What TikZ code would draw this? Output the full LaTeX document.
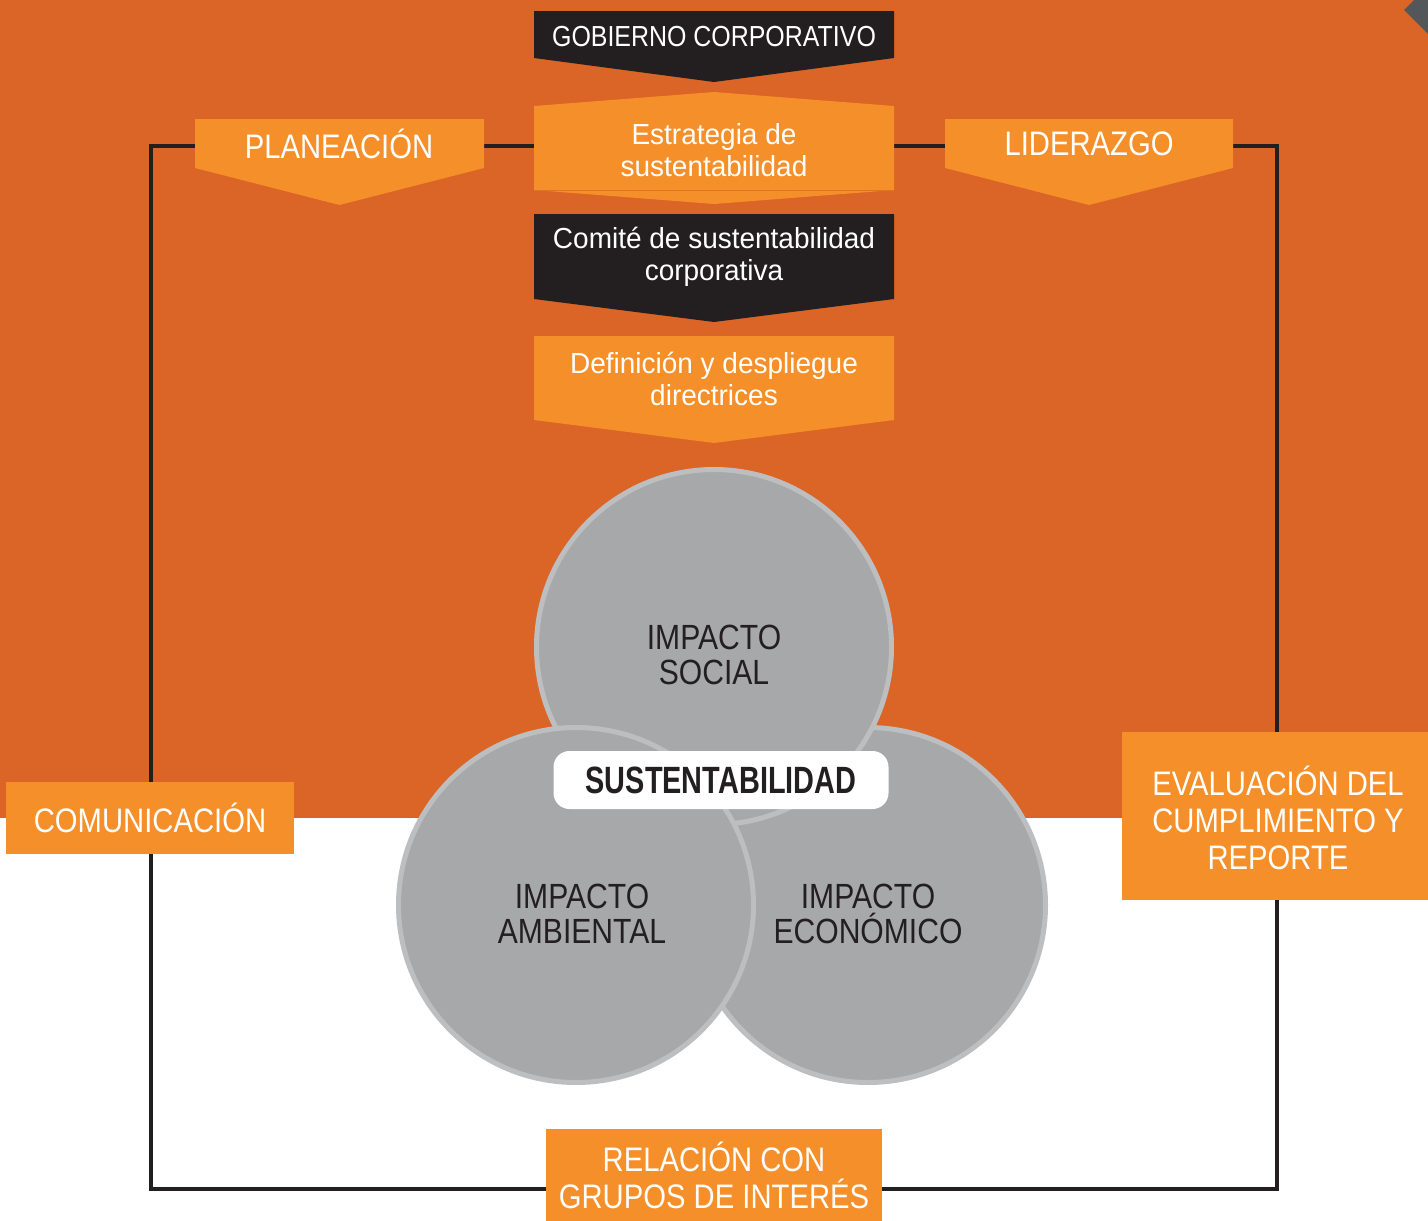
\documentclass[tikz,border=0pt]{standalone}
\usepackage{fontspec}
\setmainfont{Liberation Sans}[FakeStretch=0.86]
\newfontfamily\angosta{Liberation Sans}[FakeStretch=0.76]
\newfontfamily\ancha{Liberation Sans}[FakeStretch=0.965]
\usetikzlibrary{calc}

\definecolor{fondo}{HTML}{DB6427}
\definecolor{naranja}{HTML}{F58F2A}
\definecolor{oscuro}{HTML}{231F20}
\definecolor{grisc}{HTML}{A7A8AA}
\definecolor{grisborde}{HTML}{BCBEC0}
\definecolor{pizarra}{HTML}{53575A}

\begin{document}
\begin{tikzpicture}[
	x=1pt, y=-1pt,
	marco/.style ={line width=4pt, color=oscuro},
	textob/.style ={text=white, align=center, inner sep=0pt},
	caja/.style ={fill=naranja, text=white, align=center, inner sep=0pt,
		font=\fontsize{34}{37}\selectfont},
	circulo/.style ={circle, fill=grisc, draw=grisborde, line width=5pt,
		minimum size=355pt, inner sep=0pt},
	textocirc/.style ={align=center, text=oscuro, inner sep=0pt,
		font=\fontsize{35}{35}\selectfont}]

	% banda: [relleno] (izq,arriba)(der,lado)(punta)
	\def\banda[#1](#2,#3)(#4,#5)(#6)%
		{\fill[#1] (#2,#3) -- (#4,#3) -- (#4,#5) -- ({(#2+#4)/2},#6) -- (#2,#5) -- cycle; }

	\useasboundingbox (0,0) rectangle (1428,1221);

	% fondo
	\fill[fondo] (0,0) rectangle (1428,818);
	\fill[pizarra] (1404,10) -- (1414,0) -- (1428,0) -- (1428,34) -- cycle;

	\coordinate (TL) at (151,146);
	\coordinate (TR) at (1277,146);
	\coordinate (BR) at (1277,1189);
	\coordinate (BL) at (151,1189);
	\draw [marco] (TL) -- (TR) -- (BR) -- (BL) -- cycle;

	% columna central
	\banda[oscuro](534,11)(894,58)(82)
	\node[textob, font=\fontsize{29}{32}\selectfont] (gobierno) at (714,37) {GOBIERNO CORPORATIVO};

	\fill[naranja] (534,106) -- (714,92) -- (894,106) -- (894,190) -- (714,204) -- (534,190) -- cycle;
	\draw[fondo!70!naranja, thin] (534,190) -- (894,190);
	\node[textob, font=\ancha\fontsize{29}{32}\selectfont] (estrategia) at (714,150) {Estrategia de\\sustentabilidad};

	\banda[oscuro](534,214)(894,299)(322)
	\node[textob, font=\ancha\fontsize{29}{32}\selectfont] (comite) at (714,257) {Comité de sustentabilidad\\corporativa};

	\banda[naranja](534,336)(894,420)(443)
	\node[textob, font=\ancha\fontsize{29}{32}\selectfont] (definicion) at (714,379) {Definición y despliegue\\directrices};

	% bandas laterales
	\banda[naranja](195,119)(484,168)(205)
	\node[textob, font=\fontsize{34}{37}\selectfont] (planeacion) at (339,144) {PLANEACIÓN};
	\banda[naranja](945,119)(1233,168)(205)
	\node[textob, font=\fontsize{34}{37}\selectfont] (liderazgo) at (1089,144) {LIDERAZGO};

	% circulos
	\node[circulo] (economico) at (868,905) {};
	\node[circulo] (social) at (714,647) {};
	\node[circulo] (ambiental) at (576,905) {};
	\node[textocirc] (economicotxt) at ($(economico)+(0,9)$) {IMPACTO\\ECONÓMICO};
	\node[textocirc] (socialtxt) at ($(social)+(0,8)$) {IMPACTO\\SOCIAL};
	\node[textocirc] (ambientaltxt) at ($(ambiental)+(6,9)$) {IMPACTO\\AMBIENTAL};

	\node[fill=white, rounded corners=16pt, minimum width=335pt, minimum height=58pt,
		text=oscuro, font=\angosta\bfseries\fontsize{38}{38}\selectfont] (sust) at (721,780) {SUSTENTABILIDAD};

	% cajas
	\node[caja, minimum width=288pt, minimum height=72pt] (comunicacion) at (150,818) {COMUNICACIÓN};
	\node[caja, minimum width=306pt, minimum height=168pt] (evaluacion) at (1275,816) {};
	\node[textob, font=\fontsize{34}{37}\selectfont] (evaluaciontxt) at (1278,818) {EVALUACIÓN DEL\\CUMPLIMIENTO Y\\REPORTE};
	\node[caja, minimum width=336pt, minimum height=92pt] (relacion) at (714,1175) {RELACIÓN CON\\GRUPOS DE INTERÉS};

\end{tikzpicture}
\end{document}
